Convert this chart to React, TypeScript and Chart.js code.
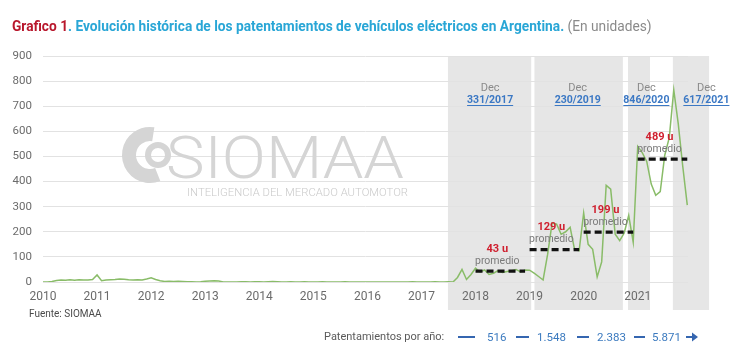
import React, { useEffect, useLayoutEffect, useRef } from 'react';
import { Chart, registerables } from 'chart.js';

Chart.register(...registerables);

// ---------- DATA ----------
const startYear = 2010;
const yearTicks = [2010, 2011, 2012, 2013, 2014, 2015, 2016, 2017, 2018, 2019, 2020, 2021];
const yTicks = [0, 100, 200, 300, 400, 500, 600, 700, 800, 900];

// monthly registrations (units), Jan..Dec
const sales2010 = [0, 0, 2, 6, 8, 7, 9, 7, 9, 8, 8, 10];
const sales2011 = [28, 5, 8, 9, 10, 12, 11, 9, 8, 9, 8, 12];
const sales2012 = [17, 10, 5, 2, 3, 2, 3, 2, 1, 1, 0, 1];
const sales2013 = [3, 4, 5, 4, 0, 0, 0, 0, 1, 1, 0, 1];
const sales2014 = [1, 0, 1, 2, 1, 0, 0, 1, 0, 0, 1, 0];
const sales2015 = [0, 0, 1, 0, 0, 0, 0, 1, 0, 0, 0, 0];
const sales2016 = [0, 0, 0, 0, 0, 0, 0, 0, 0, 0, 1, 0];
const sales2017 = [0, 0, 0, 1, 0, 0, 1, 0, 18, 50, 10, 30];
const sales2018 = [55, 40, 48, 30, 35, 45, 38, 42, 45, 50, 40, 48];
const sales2019 = [47, 35, 22, 8, 110, 235, 230, 190, 200, 218, 128, 125];
const sales2020 = [275, 150, 130, 20, 80, 385, 370, 190, 165, 195, 265, 158];
const sales2021 = [540, 515, 480, 390, 345, 360, 505, 575, 765, 630, 460, 306];

const avgYears = [2018, 2019, 2020, 2021];
const avgValues = [43, 129, 199, 489];
const avgLabels = ['43 u', '129 u', '199 u', '489 u'];

const shadeStart = [2017.49, 2019.09, 2020.82, 2021.65];
const shadeEnd = [2019.03, 2020.725, 2021.227, 2022.32];

const decLabelX = [2018.27, 2019.89, 2021.16, 2022.27];
const decLabelText = ['331/2017', '230/2019', '846/2020', '617/2021'];

const legendYears = ['516', '1.548', '2.383', '5.871'];

// ---------- CHART ----------
const monthly = [
  ...sales2010, ...sales2011, ...sales2012, ...sales2013, ...sales2014, ...sales2015,
  ...sales2016, ...sales2017, ...sales2018, ...sales2019, ...sales2020, ...sales2021,
];

const FONT = 'Roboto, "Noto Sans", sans-serif';

const decorPlugin = {
  id: 'decor',
  beforeDraw(chart: any) {
    const { ctx, chartArea } = chart;
    const xs = chart.scales.x;
    ctx.save();
    ctx.fillStyle = '#e6e6e6';
    shadeStart.forEach((s, i) => {
      const x0 = xs.getPixelForValue(s);
      const x1 = xs.getPixelForValue(shadeEnd[i]);
      ctx.fillRect(x0, chartArea.top, x1 - x0, chartArea.bottom + 28 - chartArea.top);
    });
    ctx.restore();
  },
  beforeDatasetsDraw(chart: any) {
    const { ctx } = chart;
    ctx.save();
    ctx.strokeStyle = '#d5d5d5';
    ctx.fillStyle = '#d5d5d5';
    ctx.lineWidth = 14;
    ctx.beginPath();
    ctx.arc(150, 155, 21, -Math.PI * 0.45, Math.PI * 0.38, true);
    ctx.stroke();
    ctx.lineWidth = 6;
    ctx.beginPath();
    ctx.arc(158, 155, 10, 0, Math.PI * 2);
    ctx.stroke();
    ctx.textAlign = 'left';
    ctx.textBaseline = 'alphabetic';
    ctx.font = '300 60px ' + FONT;
    const w1 = ctx.measureText('SIOMAA').width;
    ctx.save();
    ctx.translate(166, 178);
    ctx.scale(238 / w1, 1);
    ctx.fillText('SIOMAA', 0, 0);
    ctx.restore();
    ctx.fillStyle = '#cacaca';
    ctx.font = '300 11px ' + FONT;
    const t2 = 'INTELIGENCIA DEL MERCADO AUTOMOTOR';
    const w2 = ctx.measureText(t2).width;
    ctx.save();
    ctx.translate(187, 196);
    ctx.scale(221 / w2, 1);
    ctx.fillText(t2, 0, 0);
    ctx.restore();
    ctx.restore();
  },
  afterDatasetsDraw(chart: any) {
    const { ctx } = chart;
    const xs = chart.scales.x;
    const ys = chart.scales.y;
    ctx.save();
    ctx.textAlign = 'center';
    ctx.textBaseline = 'middle';
    avgYears.forEach((yr, i) => {
      const x0 = xs.getPixelForValue(yr);
      const x1 = xs.getPixelForValue(yr + 11 / 12);
      const cx = (x0 + x1) / 2 - 3;
      const py = ys.getPixelForValue(avgValues[i]);
      ctx.font = 'bold 11px ' + FONT;
      ctx.fillStyle = '#cf1f2e';
      ctx.fillText(avgLabels[i], cx, py - 22);
      ctx.font = '10.5px ' + FONT;
      ctx.fillStyle = '#7a7a7a';
      ctx.fillText('promedio', cx, py - 10);
    });
    decLabelX.forEach((v, i) => {
      const x = xs.getPixelForValue(v);
      ctx.font = '11px ' + FONT;
      ctx.fillStyle = '#8a8a8a';
      ctx.fillText('Dec', x, 88);
      ctx.font = 'bold 10.5px ' + FONT;
      ctx.fillStyle = '#3b78c4';
      ctx.fillText(decLabelText[i], x, 100);
      const w = ctx.measureText(decLabelText[i]).width;
      ctx.fillRect(x - w / 2, 105, w, 1);
    });
    ctx.restore();
  },
};

function ChartCanvas() {
  const ref = useRef<HTMLCanvasElement | null>(null);
  useEffect(() => {
    if (!ref.current) return;
    Chart.defaults.font.family = FONT;
    const lineData = monthly.map((v, i) => ({ x: startYear + i / 12, y: v }));
    const avgSets = avgYears.map((yr, i) => ({
      type: 'line' as const,
      data: [
        { x: yr, y: avgValues[i] },
        { x: yr + 11 / 12, y: avgValues[i] },
      ],
      borderColor: '#111111',
      borderWidth: 3.2,
      borderDash: [7, 4],
      pointRadius: 0,
      order: 0,
    }));
    const chart = new Chart(ref.current, {
      type: 'line',
      data: {
        datasets: [
          {
            data: lineData,
            borderColor: '#89bc68',
            borderWidth: 1.5,
            pointRadius: 0,
            tension: 0,
            order: 1,
          },
          ...avgSets,
        ] as any,
      },
      options: {
        animation: false,
        responsive: false,
        parsing: false as any,
        layout: { padding: { top: 56, left: 0, right: 42, bottom: 53 } },
        plugins: { legend: { display: false }, tooltip: { enabled: false }, title: { display: false } },
        scales: {
          x: {
            type: 'linear',
            min: 2010,
            max: 2021.93,
            grid: { display: false, drawTicks: false },
            border: { display: false },
            afterFit: (s: any) => { s.height = 28; },
            afterBuildTicks: (s: any) => { s.ticks = yearTicks.map((v) => ({ value: v })); },
            ticks: {
              padding: 8,
              color: '#6b6b6b',
              font: { size: 12, family: FONT },
              maxRotation: 0,
              autoSkip: false,
              callback: (v: any) => String(v),
            },
          },
          y: {
            min: 0,
            max: 900,
            grid: { color: '#e2e2e2', lineWidth: 1, drawTicks: false },
            border: { display: false },
            afterFit: (s: any) => { s.width = 43; },
            afterBuildTicks: (s: any) => { s.ticks = yTicks.map((v) => ({ value: v })); },
            ticks: {
              padding: 11,
              color: '#6b6b6b',
              font: { size: 11.5, family: FONT },
              callback: (v: any) => String(v),
            },
          },
        },
      },
      plugins: [decorPlugin],
    });
    return () => chart.destroy();
  }, []);
  return <canvas ref={ref} width={730} height={363} style={{ display: 'block', width: 730, height: 363 }} />;
}

export default function App() {
  const titleRef = useRef<HTMLDivElement | null>(null);
  useLayoutEffect(() => {
    const el = titleRef.current;
    if (!el) return;
    const w = el.offsetWidth;
    if (w > 0) el.style.transform = `scaleX(${640 / w})`;
  }, []);
  const dash = (left: number, width: number) => (
    <div style={{ position: 'absolute', left, top: 336, width, height: 2, background: '#3566b0' }} />
  );
  const num = (left: number, text: string) => (
    <div style={{ position: 'absolute', left, top: 330, fontSize: 11.5, color: '#3b7abf', fontFamily: FONT, whiteSpace: 'nowrap' }}>{text}</div>
  );
  return (
    <div style={{ position: 'absolute', left: 0, top: 0, width: 730, height: 363, background: '#ffffff', overflow: 'hidden', fontFamily: FONT }}>
      <ChartCanvas />
      <div
        ref={titleRef}
        style={{
          position: 'absolute', left: 12, top: 18, whiteSpace: 'nowrap', fontSize: 14,
          lineHeight: '17px', transformOrigin: 'left top', display: 'inline-block',
        }}
      >
        <span style={{ color: '#b8172c', fontWeight: 700 }}>Grafico 1</span>
        <span style={{ color: '#29a6d6', fontWeight: 700 }}>. Evolución histórica de los patentamientos de vehículos eléctricos en Argentina.</span>
        <span style={{ color: '#8a8a8a' }}> (En unidades)</span>
      </div>
      <div style={{ position: 'absolute', left: 29, top: 308, fontSize: 10, color: '#4a4a4a', whiteSpace: 'nowrap' }}>Fuente: SIOMAA</div>
      <div style={{ position: 'absolute', left: 324, top: 330, fontSize: 11, color: '#5a5a5a', whiteSpace: 'nowrap' }}>Patentamientos por año:</div>
      {dash(458, 17)}
      {num(487, legendYears[0])}
      {dash(516, 13)}
      {num(537, legendYears[1])}
      {dash(577, 12)}
      {num(597, legendYears[2])}
      {dash(634, 11)}
      {num(652, legendYears[3])}
      <svg style={{ position: 'absolute', left: 686, top: 331 }} width={13} height={12}>
        <line x1={0} y1={6} x2={7} y2={6} stroke="#3566b0" strokeWidth={2} />
        <polygon points="6,1.5 12,6 6,10.5" fill="#3566b0" />
      </svg>
    </div>
  );
}
